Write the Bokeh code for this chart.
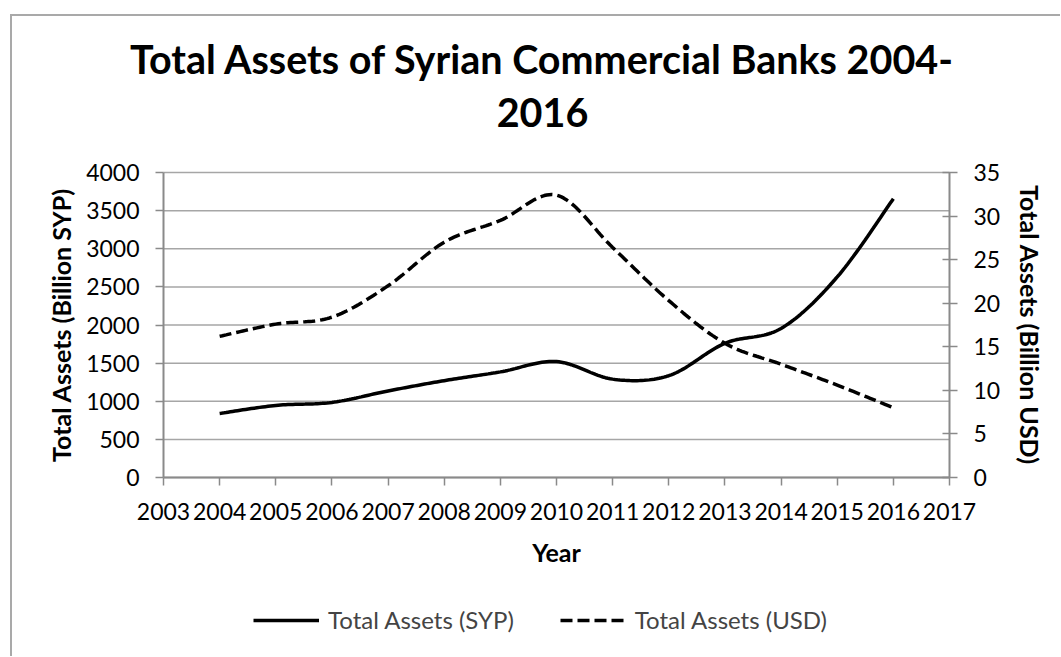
import numpy as np
from bokeh.plotting import figure
from bokeh.models import (Range1d, LinearAxis, FixedTicker, Label, Legend, LegendItem)
from bokeh.embed import file_html
from bokeh.resources import INLINE

# ---------------- data ----------------
years = [2004, 2005, 2006, 2007, 2008, 2009, 2010, 2011, 2012, 2013, 2014, 2015, 2016]
assets_syp = [840, 945, 985, 1135, 1270, 1385, 1520, 1290, 1335, 1760, 1955, 2630, 3655]
assets_usd = [16.2, 17.6, 18.4, 22.0, 27.0, 29.5, 32.4, 26.4, 20.3, 15.4, 13.0, 10.6, 8.0]
x_ticks = list(range(2003, 2018))
syp_ticks = list(range(0, 4001, 500))
usd_ticks = list(range(0, 36, 5))
title_line1 = "Total Assets of Syrian Commercial Banks 2004-"
title_line2 = "2016"
left_label = "Total Assets (Billion SYP)"
right_label = "Total Assets (Billion USD)"
x_label = "Year"
series_names = ["Total Assets (SYP)", "Total Assets (USD)"]

FONT = "Lato"


def smooth(xs, ys, n=24):
    """Excel-like smoothed line (Catmull-Rom through the data points)."""
    P = np.column_stack([np.asarray(xs, float), np.asarray(ys, float)])
    out = []
    m = len(P)
    t = np.linspace(0, 1, n)[:, None]
    for i in range(m - 1):
        p0 = P[i - 1] if i > 0 else P[i]
        p1 = P[i]
        p2 = P[i + 1]
        p3 = P[i + 2] if i + 2 < m else P[i + 1]
        c1 = p1 + (p2 - p0) / 6.0
        c2 = p2 - (p3 - p1) / 6.0
        seg = ((1 - t) ** 3) * p1 + 3 * ((1 - t) ** 2) * t * c1 + 3 * (1 - t) * t ** 2 * c2 + t ** 3 * p2
        out.append(seg if i == 0 else seg[1:])
    arr = np.vstack(out)
    return arr[:, 0], arr[:, 1]


# ---------------- geometry (canvas px) ----------------
W, H = 1060, 656
FRAME_L, FRAME_T, FRAME_B = 44, 0, 649          # the frame holds the whole chart
PA_L, PA_R, PA_T, PA_B = 163, 949, 172, 477     # plot area (value axes span)
FW, FH = W - FRAME_L, FRAME_B - FRAME_T

kx = (PA_R - PA_L) / (x_ticks[-1] - x_ticks[0])
ky = (PA_B - PA_T) / (syp_ticks[-1] - syp_ticks[0])
ku = (PA_B - PA_T) / (usd_ticks[-1] - usd_ticks[0])
x_lo = x_ticks[0] - (PA_L - FRAME_L) / kx
x_hi = x_lo + FW / kx
y_lo = syp_ticks[0] - (FRAME_B - PA_B) / ky
y_hi = syp_ticks[-1] + (PA_T - FRAME_T) / ky
u_lo = usd_ticks[0] - (FRAME_B - PA_B) / ku
u_hi = usd_ticks[-1] + (PA_T - FRAME_T) / ku


def px_to_x(px):
    return x_lo + (px - FRAME_L) / kx


def py_to_y(py):
    return y_hi - (py - FRAME_T) / ky


p = figure(width=W, height=H, output_backend="svg", toolbar_location=None,
           x_range=Range1d(x_lo, x_hi), y_range=Range1d(y_lo, y_hi),
           frame_width=FW, frame_height=FH,
           min_border_left=FRAME_L, min_border_top=FRAME_T,
           min_border_right=0, min_border_bottom=H - FRAME_B,
           x_axis_type=None, y_axis_type=None)
p.styles = {"box-shadow": "inset 10px 14px 0 0 white, inset 12px 16px 0 0 #a9a9a9"}
p.outline_line_color = None
p.background_fill_color = None
p.border_fill_color = None
p.extra_y_ranges = {"usd": Range1d(u_lo, u_hi)}

AX = "#8a8a8a"
GRID = "#a6a6a6"

# horizontal gridlines at the SYP ticks, across the plot area
p.segment(x0=x_ticks[0], x1=x_ticks[-1], y0=syp_ticks, y1=syp_ticks,
          line_color=GRID, line_width=1.5, level="underlay")

xaxis = LinearAxis(ticker=FixedTicker(ticks=x_ticks), axis_label=x_label,
                   fixed_location=syp_ticks[0], bounds=(x_ticks[0], x_ticks[-1]))
yaxis = LinearAxis(ticker=FixedTicker(ticks=syp_ticks), axis_label=left_label,
                   fixed_location=x_ticks[0], bounds=(syp_ticks[0], syp_ticks[-1]))
raxis = LinearAxis(ticker=FixedTicker(ticks=usd_ticks), axis_label=right_label, y_range_name="usd",
                   fixed_location=x_ticks[-1], bounds=(usd_ticks[0], usd_ticks[-1]))
for ax in (xaxis, yaxis, raxis):
    ax.axis_line_color = AX
    ax.axis_line_width = 2
    ax.major_tick_line_color = AX
    ax.major_tick_line_width = 1.5
    ax.major_tick_out = 8
    ax.major_tick_in = 0
    ax.minor_tick_line_color = None
    ax.major_label_text_font = FONT
    ax.major_label_text_font_size = "23px"
    ax.major_label_text_color = "black"
    ax.axis_label_text_font = FONT
    ax.axis_label_text_font_style = "bold"
    ax.axis_label_text_font_size = "25px"
    ax.axis_label_text_color = "black"
raxis.major_tick_in = 7
xaxis.major_label_standoff = 17
xaxis.axis_label_standoff = 14
yaxis.major_label_standoff = 16
yaxis.axis_label_standoff = 7
raxis.major_label_standoff = 16
raxis.axis_label_standoff = 12
p.add_layout(xaxis, "below")
p.add_layout(yaxis, "left")
p.add_layout(raxis, "right")

sx, sy = smooth(years, assets_syp)
ux, uy = smooth(years, assets_usd)
r1 = p.line(sx, sy, line_color="black", line_width=3.5)
r2 = p.line(ux, uy, line_color="black", line_width=3.5, line_dash="12 5", y_range_name="usd")

# title, two lines (baselines placed from the page geometry)
for txt, base in ((title_line1, 58), (title_line2, 112)):
    p.add_layout(Label(x=px_to_x(542), y=py_to_y(base), text=txt,
                       text_font=FONT, text_font_style="bold", text_font_size="39.5px",
                       text_align="center", text_baseline="alphabetic", text_color="black"))

legend = Legend(items=[LegendItem(label=series_names[0], renderers=[r1]),
                       LegendItem(label=series_names[1], renderers=[r2])],
                orientation="horizontal", location=(253 - FRAME_L, FRAME_B - 634),
                glyph_width=66, glyph_height=20, label_height=20,
                label_standoff=9, spacing=46, padding=0, margin=0,
                label_text_font=FONT, label_text_font_size="24px",
                border_line_color=None, background_fill_alpha=0)
p.add_layout(legend, "center")

open("out.html", "w").write(file_html(p, INLINE))
